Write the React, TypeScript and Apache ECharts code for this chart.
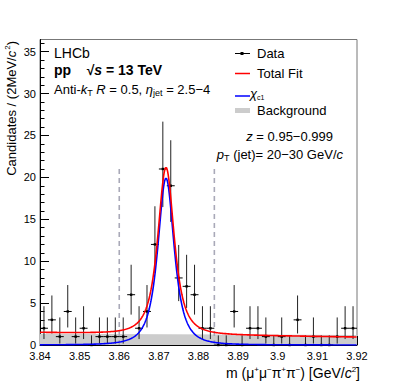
import React, { useEffect, useRef } from "react";
import * as echarts from "echarts";

// ---- Data ----
const binCenters = [
  3.841, 3.843, 3.845, 3.847, 3.849, 3.851, 3.853, 3.855, 3.857, 3.859,
  3.861, 3.863, 3.865, 3.867, 3.869, 3.871, 3.873, 3.875, 3.877, 3.879,
  3.881, 3.883, 3.885, 3.887, 3.889, 3.891, 3.893, 3.895, 3.897, 3.899,
  3.901, 3.903, 3.905, 3.907, 3.909, 3.911, 3.913, 3.915, 3.917, 3.919,
];
const counts = [
  2, 3, 1, 4, 1, 2, 0, 1, 1, 1,
  1, 6, 2, 4, 12, 21, 19, 8, 7, 6,
  2, 2, 0, 0, 4, 0, 2, 2, 1, 0,
  1, 0, 3, 0, 1, 0, 0, 1, 2, 2,
];
const xTickValues = [3.84, 3.85, 3.86, 3.87, 3.88, 3.89, 3.9, 3.91, 3.92];
const yTickValues = [0, 5, 10, 15, 20, 25, 30, 35];
const yMinorValues = [
  0, 1, 2, 3, 4, 5, 6, 7, 8, 9, 10, 11, 12, 13, 14, 15, 16, 17, 18, 19,
  20, 21, 22, 23, 24, 25, 26, 27, 28, 29, 30, 31, 32, 33, 34, 35, 36,
];
const signalWindow = [3.86, 3.884];
const windowTop = 21.4;

// Fit parameters
const sigMean = 3.8718;
const sigWidth = 0.00318;
const sigPower = 1.5;
const sigPeak = 19.9;
const fitBkgEnds = [1.5, 0.95]; // background part of total fit at 3.84 / 3.92
const bkgBandEnds = [1.35, 1.2]; // grey background band at 3.84 / 3.92

const X_MIN = 3.84;
const X_MAX = 3.92;
const Y_MAX = 36.45;

function signal(x: number) {
  const d = (x - sigMean) / sigWidth;
  return sigPeak / Math.pow(1 + d * d, sigPower);
}
function lin(ends: number[], x: number) {
  return ends[0] + ((ends[1] - ends[0]) * (x - X_MIN)) / (X_MAX - X_MIN);
}
// Poisson 68% intervals, Wilson-Hilferty approximation
function poissonLo(n: number) {
  if (n === 0) return 0;
  return n * Math.pow(1 - 1 / (9 * n) - 1 / (3 * Math.sqrt(n)), 3);
}
function poissonHi(n: number) {
  if (n === 0) return 1.15;
  const m = n + 1;
  return m * Math.pow(1 - 1 / (9 * m) + 1 / (3 * Math.sqrt(m)), 3);
}

const FONT = "Liberation Sans, Arial, Helvetica, sans-serif";

export default function App() {
  const ref = useRef<HTMLDivElement>(null);

  useEffect(() => {
    if (!ref.current) return;
    const chart = echarts.init(ref.current, null, { renderer: "svg" });

    const curveX: number[] = [];
    for (let i = 0; i <= 800; i++) curveX.push(X_MIN + ((X_MAX - X_MIN) * i) / 800);
    const blueData = curveX.map((x) => [x, signal(x)]);
    const redData = curveX.map((x) => [x, signal(x) + lin(fitBkgEnds, x)]);
    const bandData = [X_MIN, X_MAX].map((x) => [x, lin(bkgBandEnds, x)]);

    const minorX: number[] = [];
    for (let i = 0; i <= 40; i++) minorX.push(+(X_MIN + i * 0.002).toFixed(3));

    const dataPts = binCenters.map((x, i) => [x, counts[i], poissonLo(counts[i]), poissonHi(counts[i])]);

    const rich = {
      i: { fontStyle: "italic", fontSize: 13, fontFamily: FONT, fill: "#000" },
      sub: { fontSize: 9, fontFamily: FONT, padding: [8, 0, 0, 0], fill: "#000" },
      b: { fontWeight: "bold", fontSize: 14, fontFamily: FONT, fill: "#000" },
      bi: { fontWeight: "bold", fontStyle: "italic", fontSize: 14, fontFamily: FONT, fill: "#000" },
    };

    const option: any = {
      animation: false,
      backgroundColor: "#fff",
      grid: {
        left: 40,
        top: 39.5,
        right: 40,
        bottom: 39,
        show: true,
        borderColor: "#777",
        borderWidth: 1,
      },
      xAxis: [
        {
          type: "value",
          min: X_MIN,
          max: X_MAX,
          position: "bottom",
          axisLine: { show: true, lineStyle: { color: "#000", width: 1 } },
          axisTick: { show: true, inside: true, length: 9, customValues: xTickValues, lineStyle: { color: "#000" } },
          axisLabel: {
            show: true,
            customValues: xTickValues,
            formatter: (v: number) => String(parseFloat(v.toFixed(2))),
            color: "#000",
            fontFamily: FONT,
            fontSize: 11,
            margin: 5,
          },
          splitLine: { show: false },
        },
        {
          type: "value",
          min: X_MIN,
          max: X_MAX,
          position: "bottom",
          axisLine: { show: false },
          axisTick: { show: true, inside: true, length: 4.5, customValues: minorX, lineStyle: { color: "#000" } },
          axisLabel: { show: false },
          splitLine: { show: false },
        },
      ],
      yAxis: [
        {
          type: "value",
          min: 0,
          max: Y_MAX,
          position: "left",
          axisLine: { show: true, lineStyle: { color: "#000", width: 1 } },
          axisTick: { show: true, inside: true, length: 9, customValues: yTickValues, lineStyle: { color: "#000" } },
          axisLabel: {
            show: true,
            customValues: yTickValues,
            color: "#000",
            fontFamily: FONT,
            fontSize: 11,
            margin: 4,
          },
          splitLine: { show: false },
        },
        {
          type: "value",
          min: 0,
          max: Y_MAX,
          position: "left",
          axisLine: { show: false },
          axisTick: { show: true, inside: true, length: 4.5, customValues: yMinorValues, lineStyle: { color: "#000" } },
          axisLabel: { show: false },
          splitLine: { show: false },
        },
      ],
      series: [
        {
          type: "line",
          name: "Background",
          data: bandData,
          showSymbol: false,
          lineStyle: { width: 0 },
          areaStyle: { color: "#cccccc", opacity: 1 },
          z: 1,
        },
        {
          type: "line",
          data: [[signalWindow[0], 0], [signalWindow[0], windowTop]],
          showSymbol: false,
          lineStyle: { color: "#a9a9b8", width: 1.6, type: [5, 4] },
          z: 2,
        },
        {
          type: "line",
          data: [[signalWindow[1], 0], [signalWindow[1], windowTop]],
          showSymbol: false,
          lineStyle: { color: "#a9a9b8", width: 1.6, type: [5, 4] },
          z: 2,
        },
        {
          type: "custom",
          name: "Data",
          data: dataPts,
          z: 3,
          renderItem: (params: any, api: any) => {
            const x = api.value(0);
            const y = api.value(1);
            const lo = api.value(2);
            const hi = api.value(3);
            const c = api.coord([x, y]);
            const l = api.coord([x - 0.001, y]);
            const r = api.coord([x + 0.001, y]);
            const pl = api.coord([x, lo]);
            const ph = api.coord([x, hi]);
            return {
              type: "group",
              children: [
                { type: "line", shape: { x1: l[0], y1: c[1], x2: r[0], y2: c[1] }, style: { stroke: "#000", lineWidth: 1 } },
                { type: "line", shape: { x1: c[0], y1: pl[1], x2: c[0], y2: ph[1] }, style: { stroke: "#222", lineWidth: 1 } },
                { type: "rect", shape: { x: c[0] - 1.2, y: c[1] - 1.2, width: 2.4, height: 2.4 }, style: { fill: "#000" } },
              ],
            };
          },
        },
        {
          type: "line",
          name: "chi_c1",
          data: blueData,
          showSymbol: false,
          lineStyle: { color: "#0000ff", width: 1.6 },
          z: 4,
        },
        {
          type: "line",
          name: "Total Fit",
          data: redData,
          showSymbol: false,
          lineStyle: { color: "#ff0000", width: 1.6 },
          z: 5,
        },
      ],
      graphic: [
        // Axis titles
        {
          type: "text",
          x: 11,
          y: 41,
          rotation: Math.PI / 2,
          style: {
            text: "Candidates / (2MeV/{i|c}{sup|2})",
            font: `13px ${FONT}`,
            fill: "#000",
            align: "right",
            verticalAlign: "middle",
            rich: {
              i: { fontStyle: "italic", fontSize: 13, fontFamily: FONT },
              sup: { fontSize: 8, fontFamily: FONT, padding: [0, 0, 8, 1] },
            },
          },
        },
        {
          type: "text",
          x: 360,
          y: 373,
          style: {
            text: "m ({n|μ}{sup|+}{n|μ}{sup|−}{n|π}{sup|+}{n|π}{sup|−}) [GeV/{i|c}{sup|2}]",
            font: `14px ${FONT}`,
            fill: "#000",
            align: "right",
            verticalAlign: "middle",
            rich: {
              n: { fontSize: 14, fontFamily: FONT },
              i: { fontStyle: "italic", fontSize: 14, fontFamily: FONT },
              sup: { fontSize: 8, fontFamily: FONT, padding: [0, 0, 8, 0] },
            },
          },
        },
        // Top-left labels
        {
          type: "text",
          x: 54,
          y: 53,
          style: { text: "LHCb", font: `14px ${FONT}`, fill: "#000", verticalAlign: "middle" },
        },
        {
          type: "text",
          x: 54,
          y: 70,
          style: {
            text: "{b|pp}    {b|√}{bi|s}{b| = 13 TeV}",
            font: `bold 14px ${FONT}`,
            fill: "#000",
            verticalAlign: "middle",
            rich,
          },
        },
        {
          type: "text",
          x: 54,
          y: 89,
          style: {
            text: "Anti-{i|k}{sub|T} {i|R} = 0.5, {i|η}{sub|jet} = 2.5−4",
            font: `13px ${FONT}`,
            fill: "#000",
            verticalAlign: "middle",
            rich,
          },
        },
        // Legend
        { type: "line", shape: { x1: 235, y1: 53.5, x2: 250, y2: 53.5 }, style: { stroke: "#000", lineWidth: 1 } },
        { type: "rect", shape: { x: 240.5, y: 52, width: 3, height: 3 }, style: { fill: "#000" } },
        { type: "text", x: 257, y: 53, style: { text: "Data", font: `13px ${FONT}`, fill: "#000", verticalAlign: "middle" } },
        { type: "line", shape: { x1: 235, y1: 73.5, x2: 250, y2: 73.5 }, style: { stroke: "#ff0000", lineWidth: 1.5 } },
        { type: "text", x: 257, y: 73, style: { text: "Total Fit", font: `13px ${FONT}`, fill: "#000", verticalAlign: "middle" } },
        { type: "line", shape: { x1: 235, y1: 96, x2: 250, y2: 96 }, style: { stroke: "#0000ff", lineWidth: 1.5 } },
        {
          type: "text",
          x: 250,
          y: 93,
          style: {
            text: "{i|χ}{sub|c1}",
            font: `13px ${FONT}`,
            fill: "#000",
            verticalAlign: "middle",
            rich: {
              i: { fontStyle: "italic", fontSize: 13, fontFamily: FONT },
              sub: { fontSize: 7, fontFamily: FONT, padding: [8, 0, 0, 0] },
            },
          },
        },
        { type: "line", shape: { x1: 235, y1: 110.5, x2: 250, y2: 110.5 }, style: { stroke: "#cccccc", lineWidth: 5 } },
        { type: "text", x: 257, y: 110, style: { text: "Background", font: `13px ${FONT}`, fill: "#000", verticalAlign: "middle" } },
        // Selection labels
        {
          type: "text",
          x: 333,
          y: 136,
          style: {
            text: "{i|z} = 0.95−0.999",
            font: `13px ${FONT}`,
            fill: "#000",
            align: "right",
            verticalAlign: "middle",
            rich,
          },
        },
        {
          type: "text",
          x: 343,
          y: 154,
          style: {
            text: "{i|p}{sub|T} (jet)= 20−30 GeV/{i|c}",
            font: `13px ${FONT}`,
            fill: "#000",
            align: "right",
            verticalAlign: "middle",
            rich,
          },
        },
      ],
    };

    chart.setOption(option);
    return () => chart.dispose();
  }, []);

  return (
    <div
      ref={ref}
      style={{ position: "fixed", left: 0, top: 0, width: 397, height: 384, background: "#fff" }}
    />
  );
}
